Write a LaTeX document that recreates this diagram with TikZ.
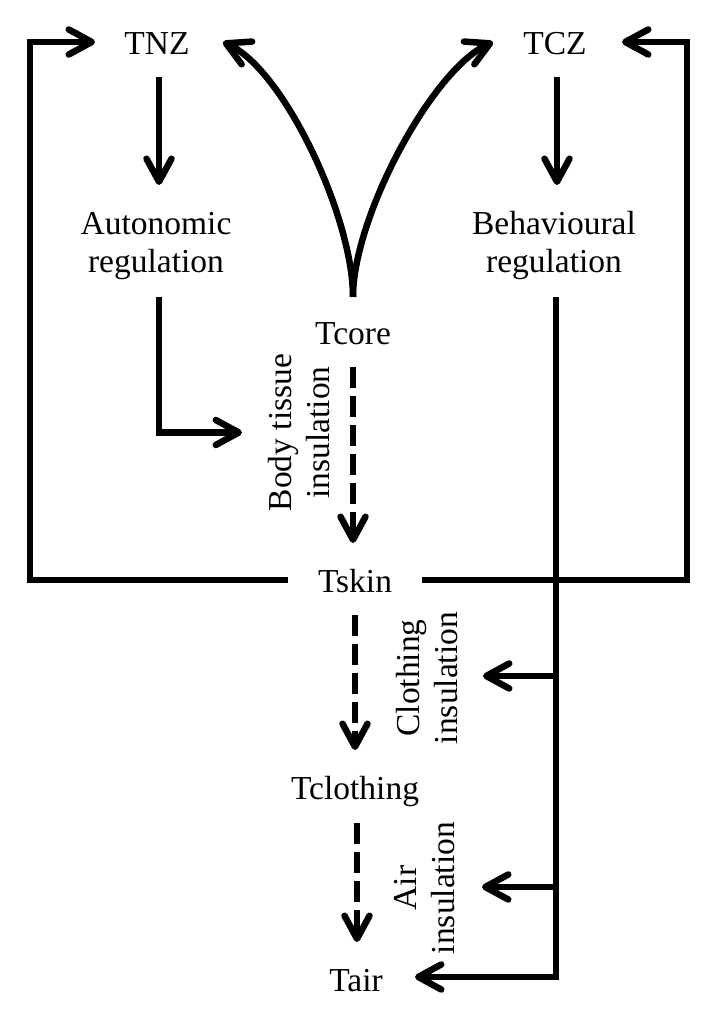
\documentclass[tikz,border=0pt]{standalone}
\usepackage{fontspec}
\setmainfont{Liberation Serif}
\usetikzlibrary{arrows.meta,calc}
\begin{document}
\begin{tikzpicture}[x=1pt,y=1pt,
  lbl/.style={inner sep=0pt, font=\fontsize{33.5}{38}\selectfont},
  mlbl/.style={lbl, align=center},
  conn/.style={line width=6.5pt},
  arr/.style={conn, -{Straight Barb[length=23pt,width=25pt,round]}},
  darr/.style={arr, dash pattern=on 21pt off 8pt}]
\useasboundingbox (0,0) rectangle (718,1020);
% nodes
\node[lbl,anchor=base] (tnz) at (157,965) {TNZ};
\node[lbl,anchor=base] (tcz) at (555,965) {TCZ};
\node[mlbl] (auto) at (156,774) {Autonomic\\regulation};
\node[mlbl] (behav) at (554,774) {Behavioural\\regulation};
\node[lbl,anchor=base] (tcore) at (353,675) {Tcore};
\node[lbl,anchor=base] (tskin) at (355,427) {Tskin};
\node[lbl,anchor=base] (tcloth) at (355,220) {Tclothing};
\node[lbl,anchor=base] (tair) at (356,28) {Tair};
\node[mlbl,rotate=90] (body) at (299,587.5) {Body tissue\\insulation};
\node[mlbl,rotate=90] (cloth) at (427,342) {Clothing\\insulation};
\node[mlbl,rotate=90] (air) at (425,132) {Air\\insulation};
% connectors
\draw[arr] ($(tnz.base)+(2,-22)$) -- ($(auto)+(3,61)$);
\draw[arr] ($(tcz.base)+(2,-22)$) -- ($(behav)+(3,61)$);
\draw[arr] ($(auto)+(3,-51)$) |- ($(body)+(-57,0)$);
\draw[arr] ($(behav)+(2,-51)$) |- ($(tair.base)+(59,15)$);
\draw[arr] ($(cloth)+(129,2)$) -- ($(cloth)+(56,2)$);
\draw[arr] ($(air)+(131,1)$) -- ($(air)+(57,1)$);
\draw[arr] ($(tskin.base)+(67,13)$) -| ($(tcz.base)+(132,13)$) -- ($(tcz.base)+(67,13)$);
\draw[arr] ($(tskin.base)+(-67,13)$) -| ($(tnz.base)+(-127,13)$) -- ($(tnz.base)+(-62,13)$);
\draw[arr] ($(tcore.base)+(0,48)$) .. controls +(0,80) and +(61,-28) .. ($(tnz.base)+(66,13)$);
\draw[arr] ($(tcore.base)+(0,48)$) .. controls +(0,80) and +(-61,-28) .. ($(tcz.base)+(-62,13)$);
\draw[darr] ($(tcore.base)+(0,-22)$) -- ($(tskin.base)+(-2,50)$);
\draw[darr] ($(tskin.base)+(0,-22)$) -- ($(tcloth.base)+(0,50)$);
\draw[darr] ($(tcloth.base)+(2,-23)$) -- ($(tair.base)+(1,50)$);
\end{tikzpicture}
\end{document}
